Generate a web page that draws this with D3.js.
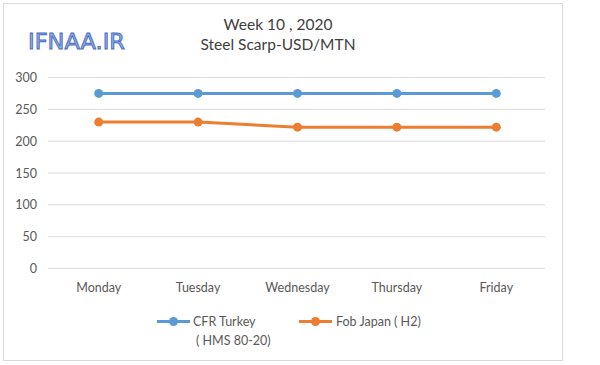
<!DOCTYPE html>
<html><head><meta charset="utf-8">
<script src="https://cdn.jsdelivr.net/npm/d3@7"></script>
<style>html,body{margin:0;padding:0;background:#fff;}svg{display:block;font-family:Lato,"Open Sans",sans-serif;}</style>
</head><body>
<script>
const days = ["Monday","Tuesday","Wednesday","Thursday","Friday"];
const cfrTurkey = [275, 275, 275, 275, 275];
const fobJapan = [230, 230, 222, 222, 222];
const yTicks = [0, 50, 100, 150, 200, 250, 300];
const titleLines = ["Week 10 , 2020", "Steel Scarp-USD/MTN"];

const W = 600, H = 365;
const svg = d3.select("body").append("svg").attr("width", W).attr("height", H);
svg.append("rect").attr("x",0).attr("y",0).attr("width",W).attr("height",H).attr("fill","#fff");
// chart frame
svg.append("rect").attr("x",3.5).attr("y",3.5).attr("width",559).attr("height",357)
  .attr("fill","none").attr("stroke","#d9d9d9").attr("stroke-width",1);

const x = d3.scaleBand().domain(days).range([49, 546]);
const y = d3.scaleLinear().domain([0, 300]).range([268.5, 77.5]);

// gridlines
svg.append("g").selectAll("line").data(yTicks).join("line")
  .attr("x1", 48).attr("x2", 545)
  .attr("y1", d => y(d)).attr("y2", d => y(d))
  .attr("stroke", "#d9d9d9").attr("stroke-width", 1);

// y axis labels
const yAxis = d3.axisLeft(y).tickValues(yTicks).tickSize(0).tickPadding(0);
const yg = svg.append("g").attr("transform","translate(37,0)").call(yAxis);
yg.select(".domain").remove();
yg.selectAll("text").attr("fill","#595959").style("font-size","12.5px").style("font-family","Lato,sans-serif");

// x axis labels
const xAxis = d3.axisBottom(x).tickSize(0).tickPadding(0);
const xg = svg.append("g").attr("transform","translate(0,283.5)").call(xAxis);
xg.select(".domain").remove();
xg.selectAll("text").attr("fill","#595959").style("font-size","12.5px").style("font-family","Lato,sans-serif");

const cx = d => x(d) + x.bandwidth()/2;
const series = [
  {name:"CFR Turkey", values: cfrTurkey, color:"#5b9bd5"},
  {name:"Fob Japan", values: fobJapan, color:"#ed7d31"}
];
const line = d3.line().x((d,i) => cx(days[i])).y(d => y(d));
series.forEach(s => {
  svg.append("path").datum(s.values).attr("d", line)
    .attr("fill","none").attr("stroke", s.color).attr("stroke-width", 3).attr("stroke-linejoin","round");
  svg.append("g").selectAll("circle").data(s.values).join("circle")
    .attr("cx", (d,i) => cx(days[i])).attr("cy", d => y(d)).attr("r", 4.5).attr("fill", s.color);
});

// title
svg.append("text").attr("x", 278).attr("y", 30).attr("text-anchor","middle")
  .attr("fill","#404040").style("font-size","15.5px").text(titleLines[0]);
svg.append("text").attr("x", 278).attr("y", 50).attr("text-anchor","middle")
  .attr("fill","#404040").style("font-size","15.5px").text(titleLines[1]);

// logo
svg.append("text").attr("x", 28).attr("y", 48.5)
  .attr("fill","#8fb0ea").attr("stroke","#4a6cc0").attr("stroke-width",0.9)
  .attr("textLength", 97).attr("lengthAdjust","spacingAndGlyphs")
  .style("font-size","22px").style("font-family","'DejaVu Sans',sans-serif")
  .text("IFNAA.IR");

// legend
const legend = svg.append("g");
const leg = [
  {x1:157, x2:190, tx:193, lines:["CFR Turkey","( HMS 80-20)"], color:series[0].color},
  {x1:299, x2:332, tx:336, lines:["Fob Japan ( H2)"], color:series[1].color}
];
leg.forEach(l => {
  legend.append("line").attr("x1",l.x1).attr("x2",l.x2).attr("y1",321.5).attr("y2",321.5)
    .attr("stroke",l.color).attr("stroke-width",3);
  legend.append("circle").attr("cx",(l.x1+l.x2)/2).attr("cy",321.5).attr("r",4.5).attr("fill",l.color);
  l.lines.forEach((t,i) => {
    legend.append("text").attr("x", l.tx + (i ? 3 : 0)).attr("y", 326 + i*19)
      .attr("fill","#595959").style("font-size","12.5px").text(t);
  });
});
</script>
</body></html>
